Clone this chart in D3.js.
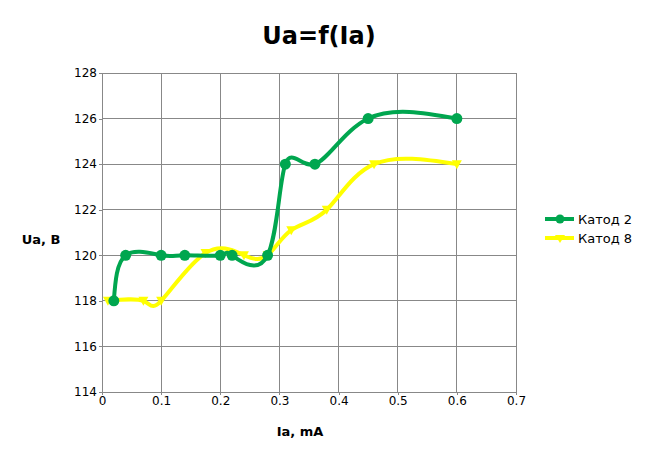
<!DOCTYPE html>
<html>
<head>
<meta charset="utf-8">
<script src="https://cdn.jsdelivr.net/npm/d3@7"></script>
<style>
  body { margin: 0; background: #fff; }
  text { font-family: "DejaVu Sans", sans-serif; fill: #000; }
</style>
</head>
<body>
<div id="chart-area"></div>
<script>
// data
const katod2X = [0.02, 0.04, 0.1, 0.14, 0.2, 0.22, 0.28, 0.31, 0.36, 0.45, 0.6]
const katod2Y = [118, 120, 120, 120, 120, 120, 120, 124, 124, 126, 126]
const katod8X = [0.01, 0.07, 0.1, 0.175, 0.24, 0.28, 0.32, 0.38, 0.46, 0.6]
const katod8Y = [118, 118, 118, 120.1, 120, 120, 121.1, 122, 124, 124]
const xTicks = [0, 0.1, 0.2, 0.3, 0.4, 0.5, 0.6, 0.7]
const yTicks = [114, 116, 118, 120, 122, 124, 126, 128]

const W = 646, H = 458
const MARGIN = { LEFT: 102, RIGHT: 130, TOP: 73, BOTTOM: 66 }
const WIDTH = W - MARGIN.LEFT - MARGIN.RIGHT
const HEIGHT = H - MARGIN.TOP - MARGIN.BOTTOM

const svg = d3.select("#chart-area").append("svg")
  .attr("width", W)
  .attr("height", H)

const g = svg.append("g")
  .attr("transform", `translate(${MARGIN.LEFT}, ${MARGIN.TOP})`)

const x = d3.scaleLinear().domain([0, 0.7]).range([0, WIDTH])
const y = d3.scaleLinear().domain([114, 128]).range([HEIGHT, 0])

// grid
g.selectAll(".vgrid").data(xTicks).enter().append("line")
  .attr("x1", d => x(d)).attr("x2", d => x(d))
  .attr("y1", 0).attr("y2", HEIGHT)
  .attr("stroke", "#888").attr("stroke-width", 1)
  .attr("shape-rendering", "crispEdges")
g.selectAll(".hgrid").data(yTicks).enter().append("line")
  .attr("x1", 0).attr("x2", WIDTH)
  .attr("y1", d => y(d)).attr("y2", d => y(d))
  .attr("stroke", "#888").attr("stroke-width", 1)
  .attr("shape-rendering", "crispEdges")

// axes
const xAxis = g.append("g")
  .attr("transform", `translate(0,${HEIGHT})`)
  .call(d3.axisBottom(x).tickValues(xTicks).tickSize(3).tickSizeOuter(0)
    .tickFormat(d => d === 0 ? "0" : d3.format(".1f")(d)))
const yAxis = g.append("g")
  .call(d3.axisLeft(y).tickValues(yTicks).tickSize(3).tickSizeOuter(0))
;[xAxis, yAxis].forEach(a => {
  a.select(".domain").attr("stroke", "#888").attr("shape-rendering", "crispEdges")
  a.selectAll(".tick line").attr("stroke", "#888").attr("shape-rendering", "crispEdges")
  a.selectAll("text").attr("font-size", 12).attr("font-family", "DejaVu Sans")
})
xAxis.selectAll("text").attr("dy", "0.6em")
yAxis.selectAll("text").attr("x", -5)

// lines
const line = (xs, ys) => d3.line()
  .x(i => x(xs[i])).y(i => y(ys[i]))
  .curve(d3.curveNatural)(d3.range(xs.length))

g.append("path").attr("d", line(katod8X, katod8Y))
  .attr("fill", "none").attr("stroke", "#ffff00").attr("stroke-width", 4)
  .attr("stroke-linejoin", "round")
g.selectAll(".m8").data(d3.range(katod8X.length)).enter().append("path")
  .attr("d", "M-5,-4L5,-4L0,5Z")
  .attr("transform", i => `translate(${x(katod8X[i])},${y(katod8Y[i])})`)
  .attr("fill", "#ffff00")

g.append("path").attr("d", line(katod2X, katod2Y))
  .attr("fill", "none").attr("stroke", "#00a64f").attr("stroke-width", 4)
  .attr("stroke-linejoin", "round")
g.selectAll(".m2").data(d3.range(katod2X.length)).enter().append("circle")
  .attr("cx", i => x(katod2X[i])).attr("cy", i => y(katod2Y[i]))
  .attr("r", 5.5).attr("fill", "#00a64f")

// titles
svg.append("text").attr("x", 319).attr("y", 44).attr("text-anchor", "middle")
  .attr("font-size", 24).attr("font-weight", "bold").text("Ua=f(Ia)")
svg.append("text").attr("x", 41).attr("y", 244).attr("text-anchor", "middle")
  .attr("font-size", 13).attr("font-weight", "bold").text("Ua, B")
svg.append("text").attr("x", 300).attr("y", 436).attr("text-anchor", "middle")
  .attr("font-size", 13).attr("font-weight", "bold").text("Ia, mA")

// legend
const legend = svg.append("g").attr("transform", "translate(545,219)")
const items = [
  { name: "Катод 2", color: "#00a64f", marker: "circle" },
  { name: "Катод 8", color: "#ffff00", marker: "tri" }
]
items.forEach((it, i) => {
  const row = legend.append("g").attr("transform", `translate(0,${i * 19})`)
  row.append("line").attr("x1", 0).attr("x2", 29).attr("y1", 0).attr("y2", 0)
    .attr("stroke", it.color).attr("stroke-width", 4)
  if (it.marker === "circle") {
    row.append("circle").attr("cx", 15).attr("cy", 0).attr("r", 4.5).attr("fill", it.color)
  } else {
    row.append("path").attr("d", "M10,-3L20,-3L15,5Z").attr("fill", it.color)
  }
  row.append("text").attr("x", 33).attr("y", 5).attr("font-size", 13).text(it.name)
})
</script>
</body>
</html>
